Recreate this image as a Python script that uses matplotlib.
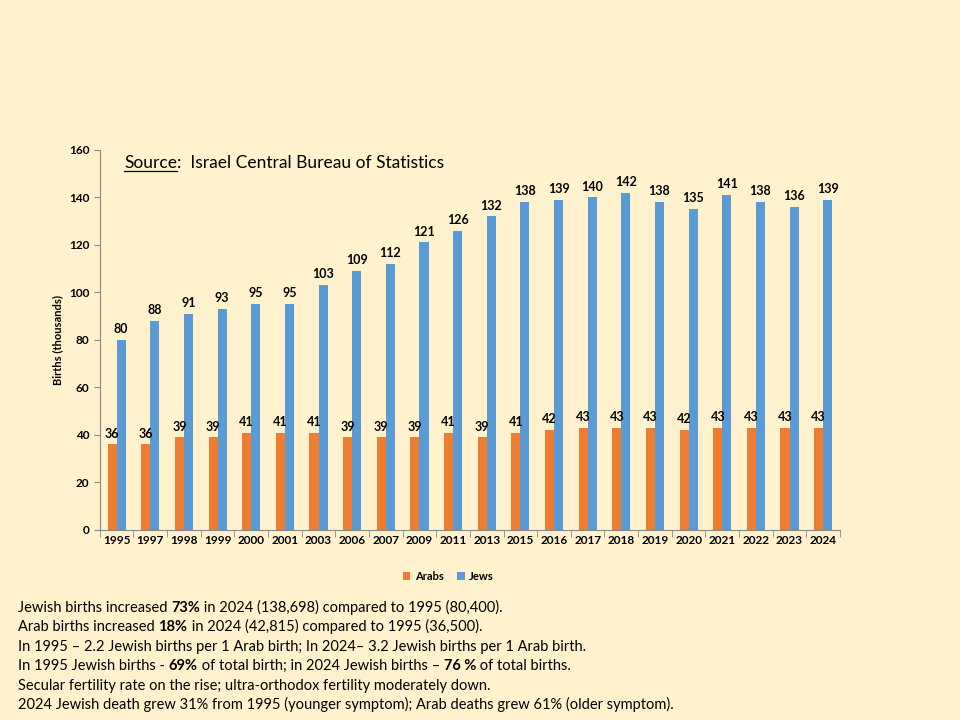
import matplotlib
matplotlib.use("Agg")
import matplotlib.pyplot as plt
import numpy as np

years = ["1995","1997","1998","1999","2000","2001","2003","2006","2007","2009","2011","2013","2015","2016","2017","2018","2019","2020","2021","2022","2023","2024"]
arabs = [36,36,39,39,41,41,41,39,39,39,41,39,41,42,43,43,43,42,43,43,43,43]
jews = [80,88,91,93,95,95,103,109,112,121,126,132,138,139,140,142,138,135,141,138,136,139]

notes = [
    [("Jewish births increased ",False),("73%",True),(" in 2024 (138,698) compared to 1995 (80,400).",False)],
    [("Arab births increased ",False),("18%",True),(" in 2024 (42,815) compared to 1995 (36,500).",False)],
    [("In 1995 – 2.2 Jewish births per 1 Arab birth; In 2024– 3.2 Jewish births per 1 Arab birth.",False)],
    [("In 1995 Jewish births - ",False),("69%",True),(" of total birth; in 2024 Jewish births – ",False),("76 %",True),(" of total births.",False)],
    [("Secular fertility rate on the rise; ultra-orthodox fertility moderately down.",False)],
    [("2024 Jewish death grew 31% from 1995 (younger symptom); Arab deaths grew 61% (older symptom).",False)],
]

bg = "#FFF2CC"
plt.rcParams['font.family'] = ['Lato', 'DejaVu Sans']
fig = plt.figure(figsize=(9.6,7.2), dpi=100, facecolor=bg)
ax = fig.add_axes([0.104,0.264,0.771,0.528], facecolor=bg)
x = np.arange(len(years))
w = 0.27
ba = ax.bar(x-w/2, arabs, w, color="#ED7D31", label="Arabs")
bj = ax.bar(x+w/2, jews, w, color="#5B9BD5", label="Jews")
for b,v in zip(ba,arabs):
    ax.text(b.get_x()+b.get_width()/2, v+2, str(v), ha="center", va="bottom", fontsize=9, fontweight="bold")
for b,v in zip(bj,jews):
    ax.text(b.get_x()+b.get_width()/2, v+2, str(v), ha="center", va="bottom", fontsize=9, fontweight="bold")
ax.set_xlim(-0.5, len(years)-0.5)
ax.set_ylim(0,160)
ax.set_yticks(range(0,161,20))
ax.set_xticks(x)
ax.set_xticklabels(years, fontweight="bold", fontsize=8.5)
for t in ax.get_yticklabels():
    t.set_fontweight("bold"); t.set_fontsize(8.5)
ax.set_ylabel("Births (thousands)", fontweight="bold", fontsize=8)
for s in ["top","right"]:
    ax.spines[s].set_visible(False)
ax.spines["left"].set_color("#888888")
ax.spines["bottom"].set_color("#888888")
ax.tick_params(color="#888888", length=4)
ax.tick_params(axis="x", length=0)
ax.set_xticks(np.arange(len(years)+1)-0.5, minor=True)
ax.tick_params(axis="x", which="minor", length=5, color="#888888")

fig.legend(handles=[ba,bj], loc="center", bbox_to_anchor=(0.467,0.199), ncol=2, frameon=False,
           prop={"weight":"bold","size":8}, handlelength=0.7, handleheight=0.7, columnspacing=1.2, handletextpad=0.4)

fig.canvas.draw()
r = fig.canvas.get_renderer()

def draw_line(segs, x0, y, size, yfig=True):
    xx = x0
    for s,b in segs:
        t = fig.text(xx, y, s, fontsize=size, fontweight="bold" if b else "normal", va="baseline", ha="left")
        bb = t.get_window_extent(r)
        xx += bb.width/fig.bbox.width
    return xx

# Source line
xe = draw_line([("Source",False)], 124/960, 1-168/720, 12.5)
fig.add_artist(plt.Line2D([124/960, xe], [1-171/720,1-171/720], color="black", lw=0.9))
draw_line([(":  Israel Central Bureau of Statistics",False)], xe, 1-168/720, 12.5)

for i,segs in enumerate(notes):
    draw_line(segs, 18/960, 1-(612+19.4*i)/720, 10.5)

fig.savefig("out.png", dpi=100, facecolor=bg)
